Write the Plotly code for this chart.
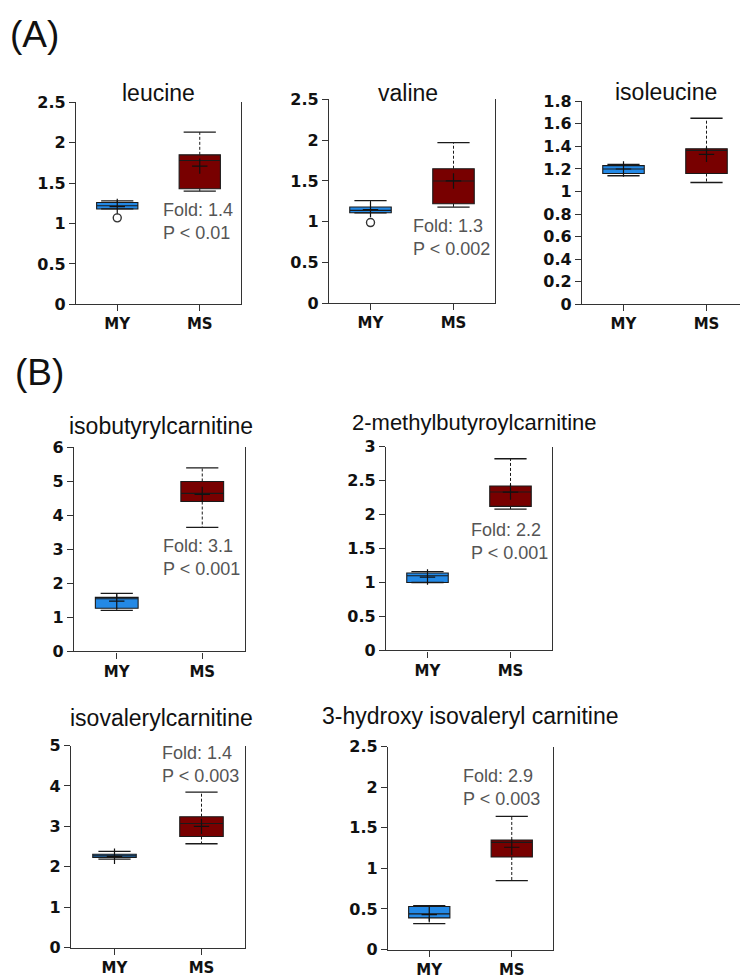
import plotly.graph_objects as go

W, H = 748, 980

# ---------------- data ----------------
titles = ["leucine", "valine", "isoleucine", "isobutyrylcarnitine",
          "2-methylbutyroylcarnitine", "isovalerylcarnitine",
          "3-hydroxy isovaleryl carnitine"]
groups = ["MY", "MS"]

my_q1 = [1.18, 1.11, 1.16, 1.27, 1.00, 2.23, 0.39]
my_med = [1.22, 1.14, 1.20, 1.55, 1.10, 2.27, 0.44]
my_q3 = [1.26, 1.18, 1.23, 1.59, 1.14, 2.31, 0.53]
my_lo = [1.18, 1.11, 1.14, 1.21, 1.00, 2.19, 0.32]
my_hi = [1.28, 1.26, 1.24, 1.71, 1.16, 2.38, 0.54]
my_mean = [1.21, 1.15, 1.20, 1.48, 1.08, 2.26, 0.43]
my_outlier = [1.07, 0.99, None, None, None, None, None]

ms_q1 = [1.43, 1.22, 1.16, 4.41, 2.12, 2.75, 1.14]
ms_med = [1.78, 1.50, 1.365, 4.65, 2.33, 3.07, 1.32]
ms_q3 = [1.85, 1.65, 1.38, 5.00, 2.42, 3.24, 1.35]
ms_lo = [1.40, 1.18, 1.08, 3.65, 2.08, 2.57, 0.85]
ms_hi = [2.13, 1.97, 1.65, 5.40, 2.82, 3.85, 1.64]
ms_mean = [1.71, 1.50, 1.33, 4.62, 2.33, 3.00, 1.26]

y_max = [2.5, 2.5, 1.8, 6, 3, 5, 2.5]
y_dtick = [0.5, 0.5, 0.2, 1, 0.5, 1, 0.5]

fold_text = ["Fold: 1.4<br>P < 0.01", "Fold: 1.3<br>P < 0.002", None,
             "Fold: 3.1<br>P < 0.001", "Fold: 2.2<br>P < 0.001",
             "Fold: 1.4<br>P < 0.003", "Fold: 2.9<br>P < 0.003"]

# ---------------- layout (pixels) ----------------
boxes_px = [(68, 233, 87, 293), (321, 487, 84, 292), (574, 740, 86, 293),
            (66, 237, 439, 647), (378, 544, 438, 646),
            (63, 237, 743, 949), (380, 545, 744, 951)]
title_px = [(150, 77), (400, 77), (658, 76), (153, 417), (466, 414),
            (153, 715), (462, 713)]
title_size = [23, 23, 23, 23, 22, 23, 23]
fold_px = [(153, 209), (403, 225), None, (153, 551), (461, 535),
           (152, 762), (453, 786)]

BLUE = "#2389e6"
RED = "#780000"
EDGE = "#1a1a1a"


def px(x):
    return x / W


def py(y):
    return 1 - y / H


fig = go.Figure()
annotations = []

for i in range(7):
    n = "" if i == 0 else str(i + 1)
    xa, ya = "x" + n, "y" + n
    x0, x1, y0, y1 = boxes_px[i]
    for gi, (q1, med, q3, lo, hi, mn, col) in enumerate([
            (my_q1[i], my_med[i], my_q3[i], my_lo[i], my_hi[i], my_mean[i], BLUE),
            (ms_q1[i], ms_med[i], ms_q3[i], ms_lo[i], ms_hi[i], ms_mean[i], RED)]):
        # dashed whiskers
        fig.add_trace(go.Scatter(
            x=[gi, gi, None, gi, gi], y=[q3, hi, None, q1, lo], mode="lines",
            line=dict(color=EDGE, width=1, dash="3px,2px"),
            xaxis=xa, yaxis=ya, hoverinfo="skip", showlegend=False))
        # whisker caps
        fig.add_trace(go.Scatter(
            x=[gi, gi], y=[hi, lo], mode="markers",
            marker=dict(symbol="line-ew", size=23, color=EDGE,
                        line=dict(color=EDGE, width=1.3)),
            xaxis=xa, yaxis=ya, hoverinfo="skip", showlegend=False))
        # box
        fig.add_trace(go.Box(
            x=[gi], q1=[q1], median=[med], q3=[q3], lowerfence=[q1],
            upperfence=[q3], width=0.5, fillcolor=col,
            line=dict(color=EDGE, width=1.1), boxpoints=False,
            xaxis=xa, yaxis=ya, hoverinfo="skip", showlegend=False))
        # mean
        fig.add_trace(go.Scatter(
            x=[gi], y=[mn], mode="markers",
            marker=dict(symbol="cross-thin", size=11, color="#111111",
                        line=dict(color="#111111", width=1.2)),
            xaxis=xa, yaxis=ya, hoverinfo="skip", showlegend=False))
    if my_outlier[i] is not None:
        fig.add_trace(go.Scatter(
            x=[0], y=[my_outlier[i]], mode="markers",
            marker=dict(symbol="circle-open", size=8, color="#333333",
                        line=dict(color="#333333", width=1.4)),
            xaxis=xa, yaxis=ya, hoverinfo="skip", showlegend=False))

    fig.layout["xaxis" + n] = dict(
        domain=[px(x0), px(x1)], anchor=ya, range=[-0.5, 1.5],
        tickvals=[0, 1], ticktext=groups, ticks="outside", ticklen=6,
        tickcolor="#333333", showline=True, linecolor="#333333",
        linewidth=1.3, showgrid=False, zeroline=False, fixedrange=True,
        tickfont=dict(family="DejaVu Sans", size=15, color="#111111",
                      weight="bold"))
    fig.layout["yaxis" + n] = dict(
        domain=[py(y1), py(y0)], anchor=xa, range=[0, y_max[i]],
        dtick=y_dtick[i], ticks="outside", ticklen=6, tickcolor="#333333",
        showline=True, linecolor="#333333", linewidth=1.3, mirror=True,
        showgrid=False, zeroline=False, fixedrange=True,
        tickfont=dict(family="DejaVu Sans", size=16, color="#111111",
                      weight="bold"))

    tx, ty = title_px[i]
    annotations.append(dict(
        x=px(tx), y=py(ty), xref="paper", yref="paper", text=titles[i],
        showarrow=False, xanchor="center", yanchor="middle",
        font=dict(family="Liberation Sans", size=title_size[i],
                  color="#111111")))
    if fold_text[i] is not None:
        fx, fy = fold_px[i]
        annotations.append(dict(
            x=px(fx), y=py(fy), xref="paper", yref="paper",
            text=fold_text[i], showarrow=False, xanchor="left",
            yanchor="middle", align="left",
            font=dict(family="Liberation Sans", size=18, color="#555555")))

annotations.append(dict(x=px(0), y=py(18), xref="paper", yref="paper",
                        text="(A)", showarrow=False, xanchor="left",
                        yanchor="middle",
                        font=dict(family="Liberation Sans", size=37,
                                  color="#111111")))
annotations.append(dict(x=px(5), y=py(363), xref="paper", yref="paper",
                        text="(B)", showarrow=False, xanchor="left",
                        yanchor="middle",
                        font=dict(family="Liberation Sans", size=37,
                                  color="#111111")))

fig.update_layout(
    width=W, height=H, margin=dict(l=0, r=0, t=0, b=0),
    paper_bgcolor="white", plot_bgcolor="white",
    annotations=annotations, showlegend=False)

fig.write_html("out.html")
